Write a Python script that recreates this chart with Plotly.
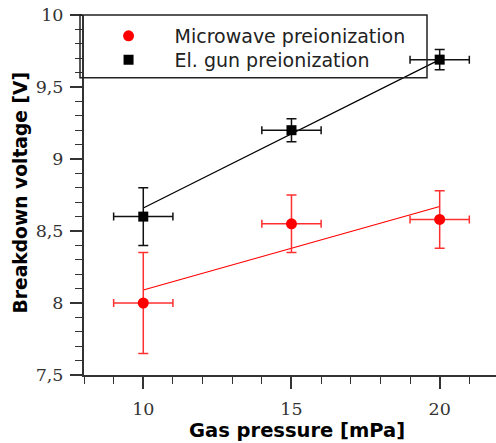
import plotly.graph_objects as go

# Data
pressure = [10, 15, 20]
pressure_err = [1, 1, 1]

mw_voltage = [8.0, 8.55, 8.58]
mw_err = [0.35, 0.2, 0.2]
mw_fit_x = [10, 20]
mw_fit_y = [8.09, 8.67]

eg_voltage = [8.6, 9.2, 9.69]
eg_err = [0.2, 0.08, 0.07]
eg_fit_x = [10, 20]
eg_fit_y = [8.66, 9.69]

y_tickvals = [7.5, 8, 8.5, 9, 9.5, 10]
y_ticktext = ["7,5", "8", "8,5", "9", "9,5", "10"]
x_tickvals = [10, 15, 20]
x_ticktext = ["10", "15", "20"]

x_title = "Gas pressure [mPa]"
y_title = "Breakdown voltage [V]"

RED = "#ff0000"
BLACK = "#000000"

fig = go.Figure()

fig.add_trace(go.Scatter(x=mw_fit_x, y=mw_fit_y, mode="lines",
                         line=dict(color=RED, width=1.2), showlegend=False, hoverinfo="skip"))
fig.add_trace(go.Scatter(x=eg_fit_x, y=eg_fit_y, mode="lines",
                         line=dict(color=BLACK, width=1.2), showlegend=False, hoverinfo="skip"))

fig.add_trace(go.Scatter(
    x=pressure, y=mw_voltage, mode="markers", name="Microwave preionization",
    marker=dict(symbol="circle", size=11, color=RED), legend="legend",
    error_y=dict(type="data", array=mw_err, color="#ff3030", thickness=1.5, width=5),
    error_x=dict(type="data", array=pressure_err, color="#ff3030", thickness=1.5, width=4),
))
fig.add_trace(go.Scatter(
    x=pressure, y=eg_voltage, mode="markers", name="El. gun preionization",
    marker=dict(symbol="square", size=10, color=BLACK), legend="legend2",
    error_y=dict(type="data", array=eg_err, color="#111111", thickness=1.5, width=5),
    error_x=dict(type="data", array=pressure_err, color="#111111", thickness=1.5, width=4),
))

axis_color = "#333333"
tickfont = dict(family="DejaVu Serif", size=17.5, color="#333333")
legfont = dict(family="DejaVu Sans", size=19, color="#222222")

fig.update_layout(
    width=496, height=443,
    margin=dict(l=84, r=0, t=15, b=68),
    plot_bgcolor="white", paper_bgcolor="white",
    showlegend=True,
    legend=dict(x=-0.0035, y=(375 - 36) / 360, xanchor="left", yanchor="middle",
                bgcolor="rgba(0,0,0,0)", borderwidth=0, font=legfont, itemwidth=82),
    legend2=dict(x=-0.0035, y=(375 - 60) / 360, xanchor="left", yanchor="middle",
                 bgcolor="rgba(0,0,0,0)", borderwidth=0, font=legfont, itemwidth=82),
    xaxis=dict(range=[8, 21.9], tickvals=x_tickvals, ticktext=x_ticktext,
               ticks="outside", ticklen=12, tickwidth=1.5, tickcolor=axis_color,
               showline=True, linecolor=axis_color, linewidth=2, ticklabelstandoff=5,
               showgrid=False, zeroline=False, tickfont=tickfont, automargin=False,
               minor=dict(dtick=1, tick0=0, ticks="outside", ticklen=7, tickwidth=1.2, tickcolor=axis_color)),
    yaxis=dict(range=[7.5, 10], tickvals=y_tickvals, ticktext=y_ticktext,
               ticks="outside", ticklen=12, tickwidth=1.5, tickcolor=axis_color,
               showline=True, linecolor=axis_color, linewidth=2, ticklabelstandoff=3,
               showgrid=False, zeroline=False, tickfont=tickfont, automargin=False,
               minor=dict(dtick=0.1, tick0=0, ticks="outside", ticklen=7, tickwidth=1.2, tickcolor=axis_color)),
    annotations=[
        dict(text=x_title, xref="paper", yref="paper", x=(297 - 84) / 412, y=(375 - 430.5) / 360,
             xanchor="center", yanchor="middle", showarrow=False,
             font=dict(family="DejaVu Sans", size=19.5, color="#000000", weight="bold")),
        dict(text=y_title, xref="paper", yref="paper", x=(19.5 - 84) / 412, y=(375 - 193) / 360,
             xanchor="center", yanchor="middle", showarrow=False, textangle=-90,
             font=dict(family="DejaVu Sans", size=18.7, color="#000000", weight="bold")),
    ],
    shapes=[dict(type="rect", xref="paper", yref="paper",
                 x0=-4/412, x1=(427-84)/412, y0=(375-77.7)/360, y1=1.0,
                 line=dict(color="#222222", width=1.5), fillcolor="rgba(0,0,0,0)")],
)

fig.write_html("out.html", config={"displayModeBar": False},
               post_script="document.body.style.margin='0';document.body.style.overflow='hidden';")
